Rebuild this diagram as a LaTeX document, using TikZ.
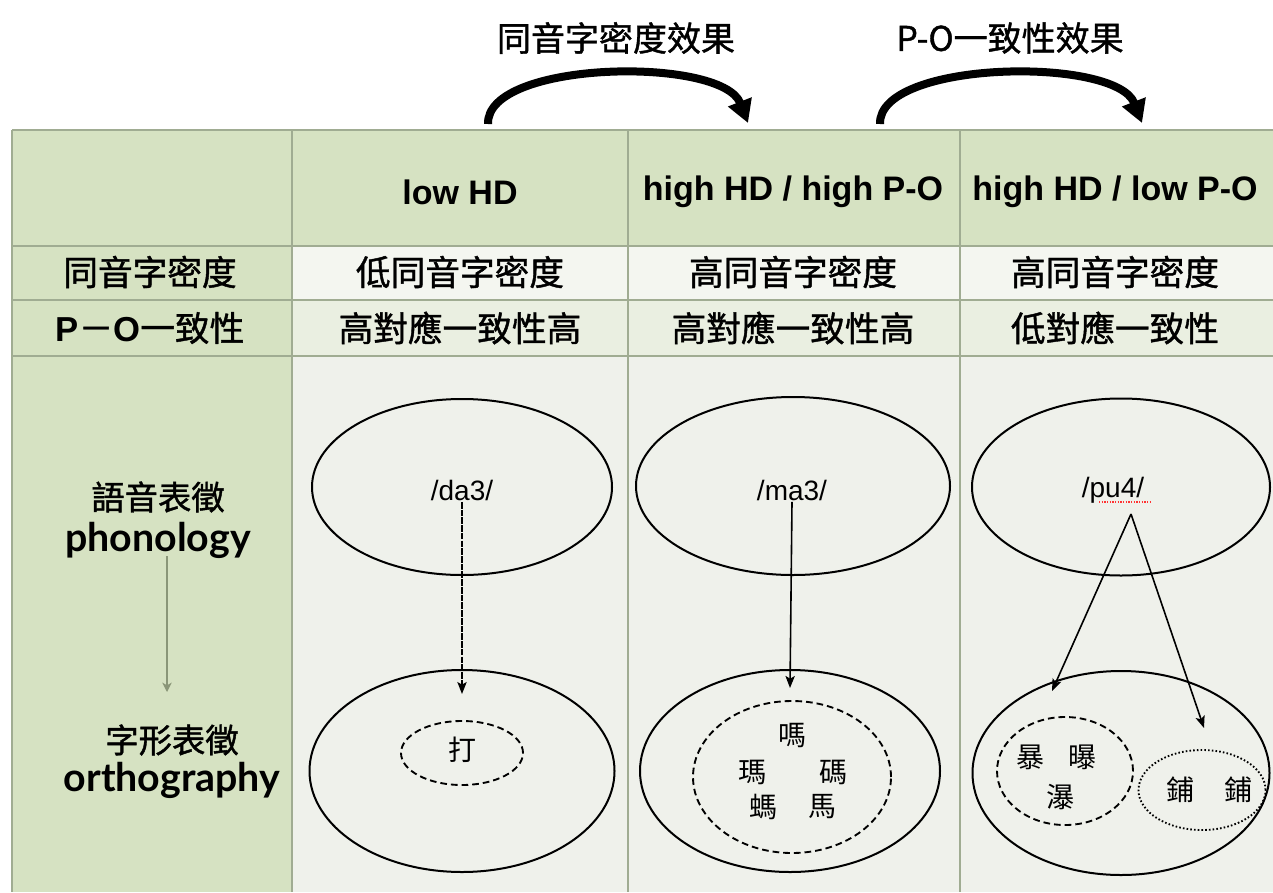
\documentclass[tikz,border=0pt]{standalone}
\usepackage{fontspec}
\setmainfont{Liberation Sans}
\newfontfamily\cjk{Noto Sans CJK TC}
\newfontfamily\cjkb[FakeBold=1.2]{Noto Sans CJK TC}
\newfontfamily\gill{Lato}
\usetikzlibrary{shapes.geometric,arrows.meta}
\definecolor{hdgreen}{RGB}{214,226,194}
\definecolor{rowa}{RGB}{244,246,240}
\definecolor{rowb}{RGB}{234,239,225}
\definecolor{bodyc}{RGB}{239,241,235}
\definecolor{gridc}{RGB}{160,172,146}
\definecolor{garrow}{RGB}{138,150,120}
\begin{document}
\begin{tikzpicture}[x=0.75pt,y=-0.75pt,
  gridline/.style={draw=gridc,line width=0.8pt},
  hdr/.style={font=\fontsize{25.5}{30}\selectfont\bfseries},
  cell/.style={font=\cjkb\fontsize{26}{30}\selectfont},
  toplbl/.style={font=\cjkb\fontsize{25.5}{30}\selectfont},
  ell/.style={draw,ellipse,line width=1.5pt,inner sep=0pt},
  dashell/.style={draw,ellipse,line width=1.4pt,dash pattern=on 5pt off 3pt,inner sep=0pt},
  dotell/.style={draw,ellipse,line width=1.4pt,dash pattern=on 1.2pt off 1.6pt,inner sep=0pt},
  chr/.style={font=\cjk\fontsize{21}{23}\selectfont,inner sep=1pt},
  phon/.style={font=\fontsize{21}{24}\selectfont,inner sep=1pt},
  link/.style={line width=1.2pt,-{Stealth[length=9pt,width=7pt,inset=2pt]}},
  bigarc/.style={line width=6pt,-{Triangle[length=17pt,width=18pt]}},
  sidecjk/.style={font=\cjkb\fontsize{25}{28}\selectfont,inner sep=1pt},
  sidelat/.style={font=\gill\bfseries\fontsize{29.5}{32}\selectfont,inner sep=1pt},
]
\useasboundingbox (0,0) rectangle (1273,892);
\fill[white] (0,0) rectangle (1273,892);
% backgrounds
\fill[hdgreen] (12,130) rectangle (1273,246);
\fill[hdgreen] (12,246) rectangle (292,892);
\fill[rowa] (292,246) rectangle (1273,300);
\fill[rowb] (292,300) rectangle (1273,356);
\fill[bodyc] (292,356) rectangle (1273,892);
% grid
\draw[gridline] (12,130) -- (1273,130);
\draw[gridline] (12,246) -- (1273,246);
\draw[gridline] (12,300) -- (1273,300);
\draw[gridline] (12,356) -- (1273,356);
\draw[gridline] (12,130) -- (12,892);
\draw[gridline] (292,130) -- (292,892);
\draw[gridline] (628,130) -- (628,892);
\draw[gridline] (960,130) -- (960,892);

% top labels and arcs
\node[toplbl] (lblhd) at (616,38) {同音字密度效果};
\node[toplbl] (lblpo) at (1010,38) {P-O一致性效果};
\coordinate (a1s) at (488,124);
\coordinate (a1e) at (748,123);
\coordinate (a2s) at (880,124);
\coordinate (a2e) at (1142,123);
\draw[bigarc] (a1s) .. controls (486,60) and (722,56) .. (a1e);
\draw[bigarc] (a2s) .. controls (878,60) and (1116,56) .. (a2e);

% header row
\node[hdr] (h1) at (460,192) {low HD};
\node[hdr] (h2) at (793,192) {high HD / high P-O};
\node[hdr] (h3) at (1115,192) {high HD / low P-O};

% row 2
\node[cell] (r2a) at (150,272) {同音字密度};
\node[cell] (r2b) at (460,272) {低同音字密度};
\node[cell] (r2c) at (793,272) {高同音字密度};
\node[cell] (r2d) at (1115,272) {高同音字密度};
% row 3
\node[cell] (r3a) at (150,328) {{\fontspec{Liberation Sans}\bfseries P}－{\fontspec{Liberation Sans}\bfseries O}一致性};
\node[cell] (r3b) at (460,328) {高對應一致性高};
\node[cell] (r3c) at (793,328) {高對應一致性高};
\node[cell] (r3d) at (1115,328) {低對應一致性};

% left column
\node[sidecjk] (pcjk) at (158,497) {語音表徵};
\node[sidelat] (plat) at (158,540) {phonology};
\node[sidecjk] (ocjk) at (172,740) {字形表徵};
\node[sidelat] (olat) at (172,780) {orthography};
\coordinate (gs) at (167,556);
\coordinate (ge) at (167,692);
\draw[garrow,line width=1.3pt,-{Stealth[length=7pt,width=7pt,inset=2pt]}] (gs) -- (ge);

% column 2 (low HD)
\node[ell,minimum width=225pt,minimum height=132pt] (u1) at (462,487) {};
\node[ell,minimum width=228.75pt,minimum height=151.5pt] (l1) at (462,771) {};
\node[dashell,minimum width=91.5pt,minimum height=48pt] (d1) at (462,753) {};
\node[phon] (da) at (462,490) {/da3/};
\node[chr] (c11) at (462,750) {打};
\coordinate (t1) at (462,694);
\draw[link,dash pattern=on 5pt off 0.8pt] (da.south) -- (t1);

% column 3 (high HD / high P-O)
\node[ell,minimum width=235.5pt,minimum height=133.5pt] (u2) at (793,486) {};
\node[ell,minimum width=225pt,minimum height=151.5pt] (l2) at (790,771) {};
\node[dashell,minimum width=148.5pt,minimum height=114pt] (d2) at (792,777) {};
\node[phon] (ma) at (792,490) {/ma3/};
\node[chr] (c21) at (792,735) {嗎};
\node[chr] (c22) at (752,772) {瑪};
\node[chr] (c23) at (833,772) {碼};
\node[chr] (c24) at (763,807) {螞};
\node[chr] (c25) at (822,807) {馬};
\coordinate (t2) at (790,688);
\draw[link] (ma.south) -- (t2);

% column 4 (high HD / low P-O)
\node[ell,minimum width=223.5pt,minimum height=132.75pt] (u3) at (1121,487) {};
\node[ell,minimum width=222.75pt,minimum height=153pt] (l3) at (1121,773) {};
\node[dashell,minimum width=102pt,minimum height=81pt] (d3) at (1065,771) {};
\node[dotell,minimum width=95.25pt,minimum height=60pt] (e3) at (1202,790) {};
\node[phon] (pu) at (1113,490) {/pu4/};
\coordinate (sq1) at (1099,502);
\coordinate (sq2) at (1152,502);
\draw[red!80,line width=0.8pt,dash pattern=on 1pt off 1pt] (sq1) -- (sq2);
\coordinate (po) at (1131,514);
\coordinate (t3a) at (1052,691);
\coordinate (t3b) at (1204,728);
\draw[link] (po) -- (t3a);
\draw[link] (po) -- (t3b);
\node[chr] (c31) at (1030,757) {暴};
\node[chr] (c32) at (1082,757) {曝};
\node[chr] (c33) at (1060,797) {瀑};
\node[chr] (c34) at (1180,790) {鋪};
\node[chr] (c35) at (1238,790) {鋪};
\end{tikzpicture}
\end{document}
